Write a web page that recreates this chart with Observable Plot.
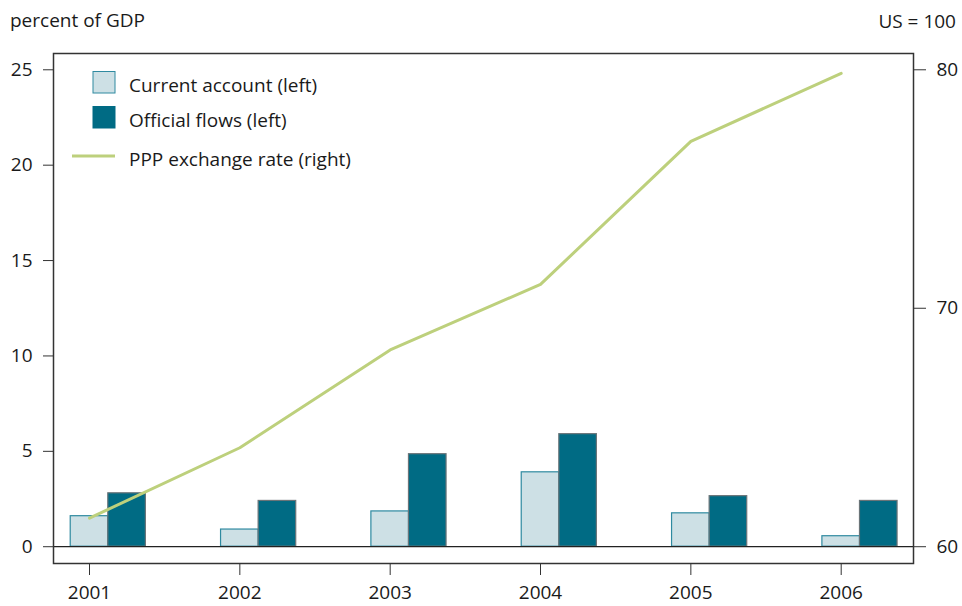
<!DOCTYPE html>
<html><head><meta charset="utf-8">
<script src="https://cdn.jsdelivr.net/npm/d3@7"></script>
<script src="https://cdn.jsdelivr.net/npm/@observablehq/plot@0.6"></script>
<style>
body{margin:0;background:#fff;}
#chart{position:relative;width:962px;height:606px;}
</style>
</head><body><div id="chart"></div>
<script>
const years = [2001, 2002, 2003, 2004, 2005, 2006];
const currentAccount = [1.6, 0.9, 1.85, 3.9, 1.75, 0.55];
const officialFlows = [2.8, 2.4, 4.85, 5.9, 2.65, 2.4];
const pppRate = [61.2, 64.15, 68.25, 71.0, 77.0, 79.85];
const leftTicks = [0, 5, 10, 15, 20, 25];
const rightTicks = [60, 70, 80];
const seriesNames = ["Current account (left)", "Official flows (left)", "PPP exchange rate (right)"];
const leftTitle = "percent of GDP";
const rightTitle = "US = 100";

const colors = {
  caFill: "#cde0e5", caStroke: "#2f8aa0",
  ofFill: "#006b84", ofStroke: "#6a7478",
  line: "#bdd07c"
};

// right axis (60..80) mapped onto left axis (0..25)
const toLeft = v => (v - 60) * 1.25;
const fromLeft = v => v / 1.25 + 60;

const caRows = years.map((y, i) => ({year: y, value: currentAccount[i]}));
const ofRows = years.map((y, i) => ({year: y, value: officialFlows[i]}));
const pppRows = years.map((y, i) => ({year: y, value: pppRate[i]}));

const font = "Open Sans";
const fs = 19;

const chart = Plot.plot({
  width: 962,
  height: 606,
  marginLeft: 53,
  marginRight: 49,
  marginTop: 53,
  marginBottom: 43,
  style: {fontFamily: font, fontSize: fs + "px", color: "#1a1a1a", background: "#fff"},
  x: {type: "linear", domain: [2000.7605, 2006.481]},
  y: {domain: [-0.88, 25.854]},
  marks: [
    Plot.rectY(caRows, {x1: d => d.year - 0.125, x2: d => d.year + 0.125, y1: 0, y2: "value",
      fill: colors.caFill, stroke: colors.caStroke, strokeWidth: 1.2}),
    Plot.rectY(ofRows, {x1: d => d.year + 0.125, x2: d => d.year + 0.375, y1: 0, y2: "value",
      fill: colors.ofFill, stroke: colors.ofStroke, strokeWidth: 1.2}),
    Plot.ruleY([0], {stroke: "#222", strokeWidth: 1.3}),
    Plot.line(pppRows, {x: "year", y: d => toLeft(d.value), stroke: colors.line, strokeWidth: 3}),
    Plot.frame({stroke: "#333", strokeWidth: 1.5}),
    Plot.axisY({anchor: "left", ticks: leftTicks, tickSize: 10, tickPadding: 11, label: null,
      fontSize: fs, stroke: "#333"}),
    Plot.axisY({anchor: "right", ticks: rightTicks.map(toLeft), tickSize: 12, tickPadding: 11, label: null,
      tickFormat: d => String(Math.round(fromLeft(d))), fontSize: fs, stroke: "#333"}),
    Plot.axisX({ticks: years, tickSize: 12, tickPadding: 10, label: null,
      tickFormat: d => String(d), fontSize: fs, stroke: "#333"})
  ]
});

document.getElementById("chart").appendChild(chart);

const svg = d3.select(chart);
svg.append("text").attr("x", 10).attr("y", 27).attr("text-anchor", "start").attr("font-family", font)
  .attr("font-size", fs).attr("fill", "#1a1a1a").text(leftTitle);
svg.append("text").attr("x", 956).attr("y", 28).attr("text-anchor", "end").attr("font-family", font)
  .attr("font-size", fs).attr("fill", "#1a1a1a").text(rightTitle);

// legend
const lg = svg.append("g").attr("font-family", font).attr("font-size", fs).attr("fill", "#1a1a1a")
  .attr("text-anchor", "start");
const legendItems = [
  {name: seriesNames[0], type: "rect", fill: colors.caFill, stroke: colors.caStroke, cy: 82},
  {name: seriesNames[1], type: "rect", fill: colors.ofFill, stroke: colors.ofFill, cy: 117},
  {name: seriesNames[2], type: "line", stroke: colors.line, cy: 156}
];
for (const it of legendItems) {
  if (it.type === "rect") {
    lg.append("rect").attr("x", 93).attr("y", it.cy - 10.5).attr("width", 22).attr("height", 21.5)
      .attr("fill", it.fill).attr("stroke", it.stroke).attr("stroke-width", 1);
  } else {
    lg.append("line").attr("x1", 72).attr("x2", 115).attr("y1", it.cy).attr("y2", it.cy)
      .attr("stroke", it.stroke).attr("stroke-width", 3);
  }
  lg.append("text").attr("x", 129).attr("y", it.cy + 4).attr("dy", "0.32em").attr("text-anchor", "start").text(it.name);
}
</script>
</body></html>
